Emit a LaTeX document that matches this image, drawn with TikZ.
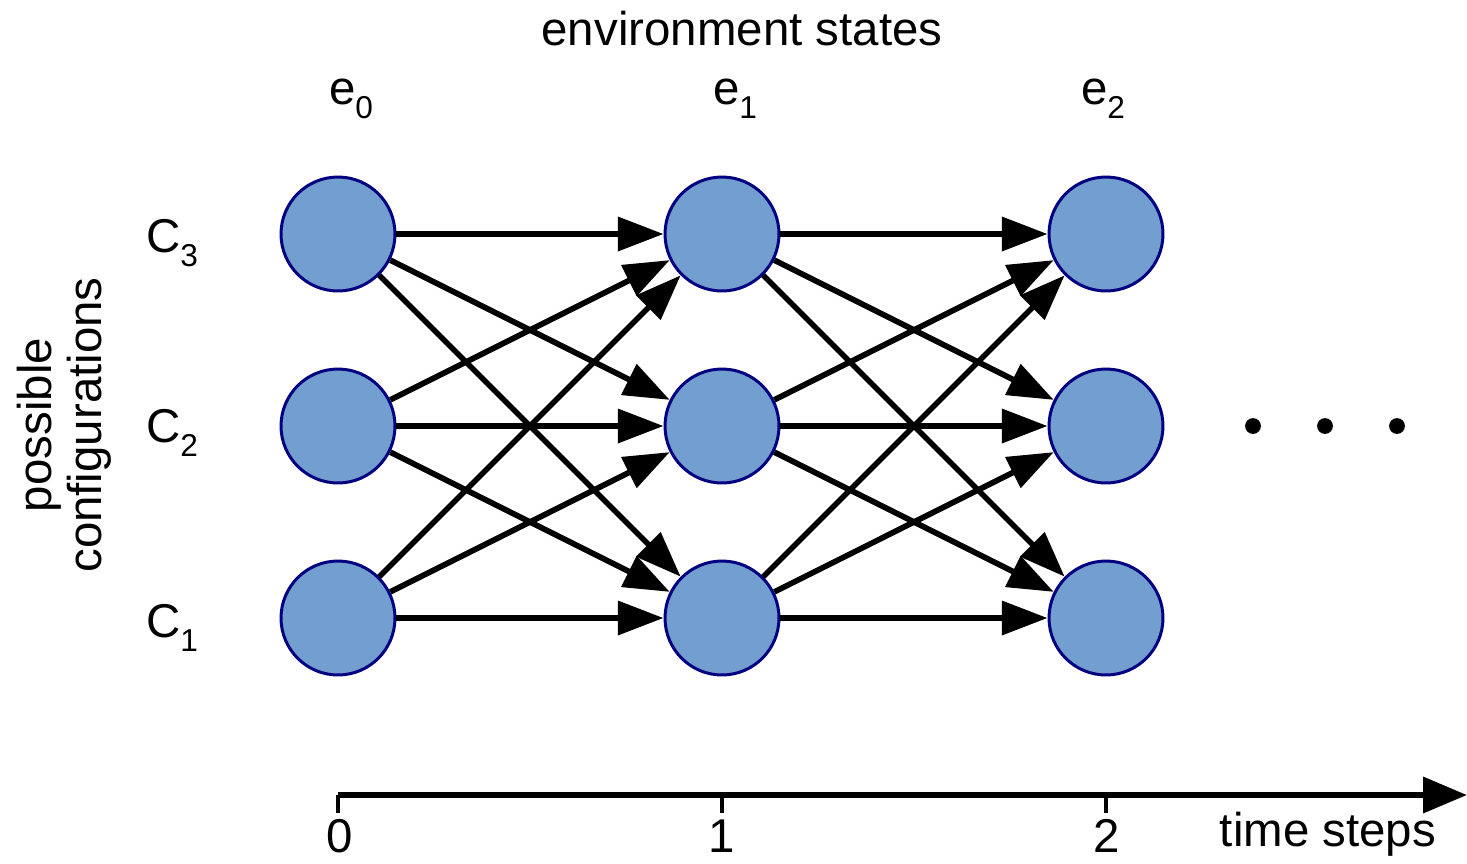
\documentclass[tikz,border=0pt]{standalone}
\usepackage{fontspec}
\setmainfont{Liberation Sans}
\usetikzlibrary{arrows.meta}
\definecolor{stateblue}{RGB}{114,159,207}
\definecolor{statenavy}{RGB}{0,0,128}
\newcommand{\lowidx}[1]{\raisebox{-8.5pt}{\fontsize{18}{18}\selectfont #1}}
\tikzset{
  state/.style={circle,draw=statenavy,fill=stateblue,line width=1.7pt,inner sep=0pt,minimum size=2.28cm},
  trans/.style={line width=3.2pt,-{Triangle[length=26pt,width=19pt]}},
}
\begin{document}
\begin{tikzpicture}[x=0.02cm,y=-0.02cm,font=\fontsize{27}{28.5}\selectfont]
\useasboundingbox (0,0) rectangle (1467,863);
% states
\foreach \col/\x in {0/338,1/722,2/1106}
  \foreach \row/\y in {3/234,2/426,1/618}
    \node[state] (s\col\row) at (\x,\y) {};
% transitions
\foreach \col/\nxt in {0/1,1/2}
  \foreach \a in {1,2,3}
    \foreach \b in {1,2,3}
      \draw[trans] (s\col\a) -- (s\nxt\b);
% labels
\node[anchor=base] (envlbl) at (742,45) {environment states};
\node[anchor=base] (e0) at (351,104) {e\lowidx{0}};
\node[anchor=base] (e1) at (735,104) {e\lowidx{1}};
\node[anchor=base] (e2) at (1103,104) {e\lowidx{2}};
\node[anchor=base] (c3) at (172,252) {C\lowidx{3}};
\node[anchor=base] (c2) at (172,442) {C\lowidx{2}};
\node[anchor=base] (c1) at (172,637) {C\lowidx{1}};
\node[rotate=90,align=center] (conf) at (64,425) {possible\\configurations};
% more steps
\fill (1253,426) circle (4.5pt);
\fill (1325,426) circle (4.5pt);
\fill (1397,426) circle (4.5pt);
% time axis
\coordinate (t0) at (338,795);
\coordinate (tend) at (1467,795);
\draw[line width=3.6pt,-{Triangle[length=25pt,width=20pt]}] (t0) -- (tend);
\draw[line width=2.5pt] (338,795) -- (338,813);
\draw[line width=2.5pt] (722,795) -- (722,813);
\draw[line width=2.5pt] (1106,795) -- (1106,813);
\node[anchor=base,inner sep=0.5pt] (n0) at (340,852) {0};
\node[anchor=base,inner sep=0.5pt] (n1) at (722,852) {1};
\node[anchor=base,inner sep=0.5pt] (n2) at (1107,852) {2};
\node[anchor=base] (tlbl) at (1328,846) {time steps};
\end{tikzpicture}
\end{document}
